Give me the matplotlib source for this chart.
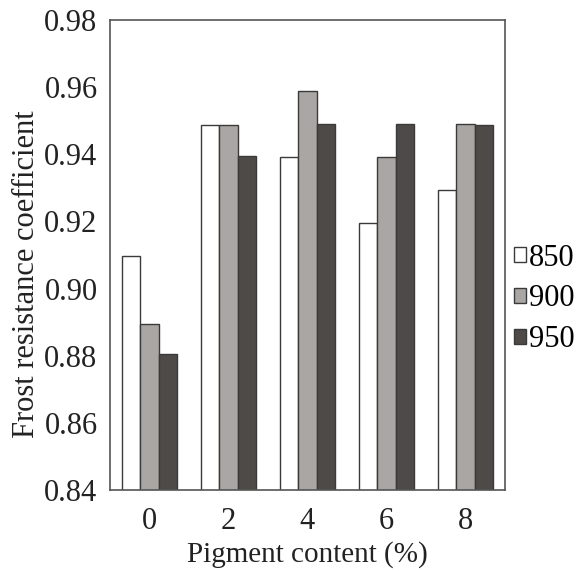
import numpy as np
import matplotlib.pyplot as plt

# pigment content categories and frost resistance values per temperature
pigment = ["0", "2", "4", "6", "8"]
temps = ["850", "900", "950"]
coef_850 = [0.9097, 0.9488, 0.9393, 0.9195, 0.9295]
coef_900 = [0.8895, 0.9488, 0.9588, 0.9392, 0.9490]
coef_950 = [0.8805, 0.9395, 0.9490, 0.9490, 0.9488]

plt.rcParams['font.family'] = ['Liberation Serif', 'DejaVu Serif']

fig = plt.figure(figsize=(5.79, 5.71), dpi=100)
ax = fig.add_axes([110 / 579, 1 - 490 / 571, 395 / 579, 470 / 571])

x = np.arange(len(pigment))
w = 0.228
colors = ["white", "#aaa6a3", "#4d4a48"]
for i, (vals, c, lab) in enumerate(zip([coef_850, coef_900, coef_950], colors, temps)):
    ax.bar(x + (i - 1) * w, vals, width=w, color=c, edgecolor="#3a3a3a",
           linewidth=1.0, label=lab)

ax.set_xlim(-0.5, 4.5)
ax.set_ylim(0.84, 0.98)
ax.set_yticks(np.arange(0.84, 0.981, 0.02))
ax.set_yticklabels(["%.2f" % v for v in np.arange(0.84, 0.981, 0.02)])
ax.set_xticks(x)
ax.set_xticklabels(pigment)
ax.tick_params(length=0, labelsize=22, colors="#222222")
ax.tick_params(axis="y", pad=9)
ax.tick_params(axis="x", pad=12)
for s in ax.spines.values():
    s.set_color("#555555")
    s.set_linewidth(1.2)

ax.set_xlabel("Pigment content (%)", fontsize=21, color="#222222", labelpad=4)
ax.set_ylabel("Frost resistance coefficient", fontsize=22, color="#222222")
ax.yaxis.set_label_coords(-0.175, 0.46)

ax.legend(loc="center left", bbox_to_anchor=(514 / 579, 1 - 299 / 571),
          bbox_transform=fig.transFigure, frameon=False,
          fontsize=22, handlelength=0.38, handleheight=0.38, handletextpad=0.12,
          labelspacing=0.38, borderaxespad=0, borderpad=0)

fig.savefig("out.png", dpi=100)
